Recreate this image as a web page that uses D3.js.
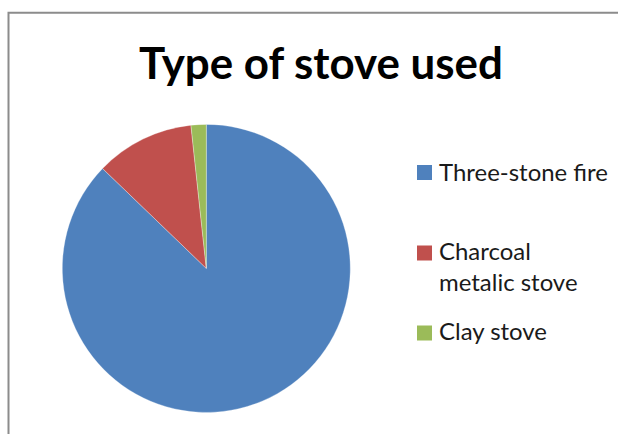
<!DOCTYPE html>
<html>
<head>
<meta charset="utf-8">
<script src="https://cdn.jsdelivr.net/npm/d3@7"></script>
<style>
  html, body { margin: 0; padding: 0; background: #ffffff; }
  svg { display: block; }
</style>
</head>
<body>
<svg id="chart" width="618" height="434"></svg>
<script>
// Stove types and their shares (%)
const categories = ["Three-stone fire", "Charcoal metalic stove", "Clay stove"];
const legendLines = [["Three-stone fire"], ["Charcoal", "metalic stove"], ["Clay stove"]];
const values = [87.2, 11.1, 1.7];
const colors = ["#4F81BD", "#C0504D", "#9BBB59"];
const titleText = "Type of stove used";

const svg = d3.select("#chart");
const FONT = "Lato, 'Open Sans', 'DejaVu Sans', sans-serif";

// Chart frame (runs off the right and bottom edges)
svg.append("path")
  .attr("d", "M8.5,440 L8.5,12.7 L630,12.7")
  .attr("fill", "none")
  .attr("stroke", "#8c8c8c")
  .attr("stroke-width", 2);

// Set a text's font size so it spans the given width
function fitWidth(sel, width) {
  const node = sel.node();
  const size = parseFloat(sel.attr("font-size"));
  const len = node.getComputedTextLength();
  sel.attr("font-size", (size * width / len).toFixed(2));
}

// Title
const title = svg.append("text")
  .attr("x", 321)
  .attr("y", 79)
  .attr("text-anchor", "middle")
  .attr("font-family", FONT)
  .attr("font-weight", "bold")
  .attr("font-size", 40)
  .attr("fill", "#000")
  .text(titleText);
fitWidth(title, 364);

// Pie
const cx = 206.3, cy = 268.4, r = 144;
const pie = d3.pie().sort(null).value(d => d)
  .startAngle(0).endAngle(2 * Math.PI);
const arc = d3.arc().innerRadius(0).outerRadius(r);

svg.append("g")
  .attr("transform", `translate(${cx},${cy})`)
  .selectAll("path")
  .data(pie(values))
  .join("path")
  .attr("d", arc)
  .attr("fill", (d, i) => colors[i])
  .attr("stroke", "#ffffff")
  .attr("stroke-opacity", 0.5)
  .attr("stroke-width", 0.6);

// Legend
const keyY = [165, 245.5, 325.5];
const textY = [180.5, 260, 340];
const lineGap = 30.5;

const legend = svg.append("g");
let fontSize = null;
categories.forEach((c, i) => {
  legend.append("rect")
    .attr("x", 417)
    .attr("y", keyY[i])
    .attr("width", 15)
    .attr("height", 15)
    .attr("fill", colors[i]);
  const t = legend.append("text")
    .attr("x", 439)
    .attr("y", textY[i])
    .attr("font-family", FONT)
    .attr("font-size", 22)
    .attr("fill", "#1a1a1a");
  legendLines[i].forEach((line, j) => {
    t.append("tspan")
      .attr("x", 439)
      .attr("y", textY[i] + j * lineGap)
      .text(line);
  });
  if (i === 0) {
    fitWidth(t, 169);
    fontSize = t.attr("font-size");
  } else {
    t.attr("font-size", fontSize);
  }
});
</script>
</body>
</html>
